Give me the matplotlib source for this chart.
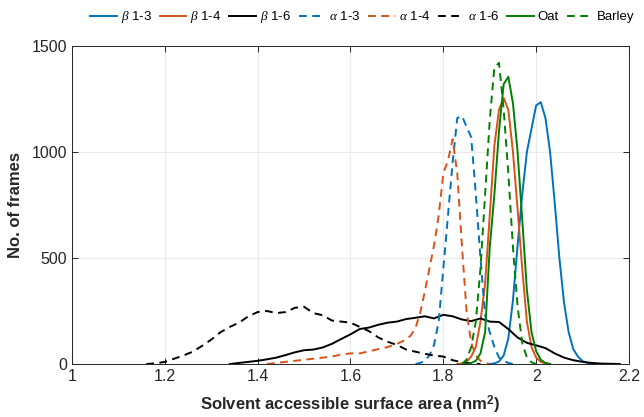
import numpy as np
import matplotlib
matplotlib.use('Agg')
import matplotlib.pyplot as plt

plt.rcParams['font.family'] = ['Liberation Sans', 'DejaVu Sans']
plt.rcParams['mathtext.fontset'] = 'custom'
plt.rcParams['mathtext.rm'] = 'Liberation Sans'
plt.rcParams['mathtext.bf'] = 'Liberation Sans:bold'
plt.rcParams['mathtext.it'] = 'Liberation Serif:italic'

# beta 1-3 (blue solid)
b13_x = [1.90, 1.91, 1.92, 1.93, 1.94, 1.95, 1.96, 1.97, 1.98, 1.99, 2.00, 2.01,
         2.02, 2.03, 2.04, 2.05, 2.06, 2.07, 2.08, 2.09, 2.10, 2.11, 2.12, 2.13]
b13_y = [0, 3, 12, 40, 120, 300, 560, 800, 1000, 1110, 1220, 1235,
         1160, 1000, 760, 500, 290, 150, 70, 35, 14, 5, 1, 0]

# beta 1-4 (orange solid)
b14_x = [1.83, 1.84, 1.85, 1.86, 1.87, 1.88, 1.89, 1.90, 1.91, 1.92, 1.93,
         1.94, 1.95, 1.96, 1.97, 1.98, 1.99, 2.00, 2.01, 2.02, 2.03]
b14_y = [0, 3, 10, 35, 80, 200, 380, 700, 1030, 1200, 1255,
         1200, 1000, 730, 450, 200, 80, 30, 10, 3, 0]

# beta 1-6 (black solid)
b16_x = [1.34, 1.36, 1.38, 1.40, 1.42, 1.44, 1.46, 1.48, 1.50, 1.52, 1.54, 1.56,
         1.58, 1.60, 1.62, 1.64, 1.66, 1.68, 1.70, 1.72, 1.74, 1.76, 1.78, 1.80,
         1.82, 1.84, 1.86, 1.88, 1.90, 1.92, 1.94, 1.96, 1.98, 2.00, 2.02, 2.04,
         2.06, 2.08, 2.10, 2.12, 2.14, 2.16, 2.18]
b16_y = [0, 5, 10, 15, 22, 30, 42, 55, 65, 68, 78, 95,
         118, 140, 165, 172, 185, 195, 200, 212, 218, 225, 215, 232,
         225, 210, 202, 215, 200, 198, 165, 125, 100, 88, 75, 50,
         30, 18, 10, 5, 2, 1, 0]

# alpha 1-3 (blue dashed)
a13_x = [1.74, 1.75, 1.76, 1.77, 1.78, 1.79, 1.80, 1.81, 1.82, 1.83, 1.84,
         1.85, 1.86, 1.87, 1.88, 1.89, 1.90, 1.91, 1.92, 1.93, 1.94, 1.95]
a13_y = [0, 5, 15, 40, 90, 200, 450, 700, 950, 1160, 1170,
         1120, 1070, 800, 500, 230, 150, 80, 30, 15, 5, 0]

# alpha 1-4 (orange dashed)
a14_x = [1.42, 1.44, 1.46, 1.48, 1.50, 1.52, 1.54, 1.56, 1.58, 1.60, 1.62, 1.64,
         1.66, 1.68, 1.70, 1.72, 1.73, 1.74, 1.75, 1.76, 1.77, 1.78, 1.79, 1.80,
         1.81, 1.82, 1.83, 1.84, 1.85, 1.86, 1.87, 1.88, 1.89, 1.90]
a14_y = [0, 5, 10, 15, 20, 25, 30, 35, 45, 50, 50, 60,
         70, 80, 95, 115, 135, 170, 240, 340, 450, 560, 700, 900,
         960, 1060, 900, 560, 250, 100, 40, 15, 5, 0]

# alpha 1-6 (black dashed)
a16_x = [1.16, 1.18, 1.20, 1.22, 1.24, 1.26, 1.28, 1.30, 1.32, 1.34, 1.36, 1.38,
         1.40, 1.42, 1.44, 1.46, 1.48, 1.50, 1.52, 1.54, 1.56, 1.58, 1.60, 1.62,
         1.64, 1.66, 1.68, 1.70, 1.72, 1.74, 1.76, 1.78, 1.80, 1.82, 1.84, 1.86, 1.88]
a16_y = [0, 3, 10, 25, 40, 58, 85, 115, 150, 175, 195, 225,
         245, 250, 240, 245, 265, 270, 240, 230, 205, 200, 195, 175,
         155, 125, 105, 90, 68, 58, 48, 40, 35, 18, 8, 3, 0]

# Oat (green solid)
oat_x = [1.85, 1.86, 1.87, 1.88, 1.89, 1.90, 1.91, 1.92, 1.93, 1.94,
         1.95, 1.96, 1.97, 1.98, 1.99, 2.00, 2.01, 2.02, 2.03]
oat_y = [0, 5, 15, 50, 150, 550, 800, 1100, 1320, 1355,
         1230, 1000, 680, 350, 150, 60, 20, 5, 0]

# Barley (green dashed)
bar_x = [1.84, 1.85, 1.86, 1.87, 1.88, 1.89, 1.90, 1.91, 1.92, 1.93,
         1.94, 1.95, 1.96, 1.97, 1.98, 1.99, 2.00]
bar_y = [0, 20, 80, 200, 450, 800, 1150, 1400, 1420, 1200,
         900, 550, 270, 100, 30, 8, 0]

blue = '#0072BD'
orange = '#D95319'
green = '#008000'
dash = (4, 2.8)

fig = plt.figure(figsize=(6.44, 4.17), dpi=100)
ax = fig.add_axes([0.1118, 0.1271, 0.8649, 0.7626])

ax.plot(b13_x, b13_y, color=blue, lw=1.4, label=r'$\beta$ 1-3')
ax.plot(b14_x, b14_y, color=orange, lw=1.4, label=r'$\beta$ 1-4')
ax.plot(b16_x, b16_y, color='black', lw=1.4, label=r'$\beta$ 1-6')
ax.plot(a13_x, a13_y, color=blue, lw=1.4, dashes=dash, label=r'$\alpha$ 1-3')
ax.plot(a14_x, a14_y, color=orange, lw=1.4, dashes=dash, label=r'$\alpha$ 1-4')
ax.plot(a16_x, a16_y, color='black', lw=1.4, dashes=dash, label=r'$\alpha$ 1-6')
ax.plot(oat_x, oat_y, color=green, lw=1.4, label='Oat')
ax.plot(bar_x, bar_y, color=green, lw=1.4, dashes=dash, label='Barley')

ax.set_xlim(1, 2.2)
ax.set_ylim(0, 1500)
ax.set_xticks([1, 1.2, 1.4, 1.6, 1.8, 2, 2.2])
ax.set_xticklabels(['1', '1.2', '1.4', '1.6', '1.8', '2', '2.2'])
ax.set_yticks([0, 500, 1000, 1500])
ax.grid(True, color='#ebebeb', lw=0.8)
ax.set_axisbelow(True)
ax.tick_params(direction='in', top=True, right=True, labelsize=11.5,
               colors='#262626', length=4, width=0.7)
for s in ax.spines.values():
    s.set_color('#262626')
    s.set_linewidth(0.7)

ax.set_xlabel(r'Solvent accessible surface area (nm$^\mathbf{2}$)',
              fontsize=12, fontweight='bold', color='#262626', labelpad=7)
ax.set_ylabel('No. of frames', fontsize=12, fontweight='bold',
              color='#262626', labelpad=6)

fig.legend(loc='upper right', bbox_to_anchor=(1.0, 1.0), ncol=8,
           frameon=False, fontsize=9.5, handlelength=2.0,
           handletextpad=0.3, columnspacing=0.6, borderaxespad=0.3)

fig.savefig('out.png', dpi=100)
